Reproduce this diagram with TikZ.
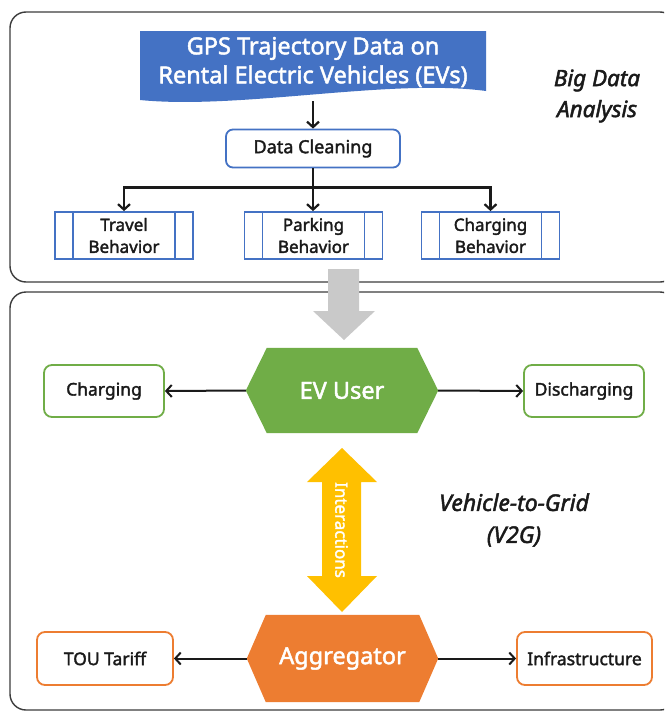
\documentclass[tikz,border=0pt]{standalone}
\usepackage{fontspec}
\setmainfont{Noto Sans}
\newfontfamily\medfont{Noto Sans}[FakeBold=2]
\newfontfamily\meditfont{Noto Sans Italic}[FakeBold=2]
\usetikzlibrary{arrows.meta}
\definecolor{cblue}{HTML}{4472C4}
\definecolor{cgreen}{HTML}{70AD47}
\definecolor{corange}{HTML}{ED7D31}
\definecolor{cyellow}{HTML}{FFC000}
\definecolor{cgrey}{HTML}{C9C9C9}
\definecolor{cpanel}{HTML}{3C3C3C}
\definecolor{ctext}{HTML}{1A1A1A}
\pgfdeclarelayer{bg}
\pgfsetlayers{bg,main}
\tikzset{
  panel/.style={draw=cpanel, line width=1.4pt, rounded corners=16pt},
  conn/.style={draw=ctext, line width=2.2pt, -{Straight Barb[length=5.5pt,width=12pt,line width=2.2pt]}},
  connb/.style={draw=ctext, line width=2pt, -{Straight Barb[length=5.5pt,width=12pt,line width=2pt]}},
  smallfont/.style={font=\medfont\fontsize{17.5}{21}\selectfont},
  cleanbox/.style={draw=cblue, line width=1.8pt, rounded corners=7pt, fill=white, text=ctext,
    minimum width=174pt, minimum height=38pt, inner sep=0pt, font=\medfont\fontsize{18}{22}\selectfont},
  behavbox/.style={draw=cblue, line width=1.8pt, fill=white, text=ctext, align=center,
    minimum width=138pt, minimum height=47pt, inner sep=0pt, font=\medfont\fontsize{17}{22}\selectfont,
    path picture={
      \draw[cblue, line width=1.8pt] ([xshift=18pt]path picture bounding box.north west) -- ([xshift=18pt]path picture bounding box.south west);
      \draw[cblue, line width=1.8pt] ([xshift=-18pt]path picture bounding box.north east) -- ([xshift=-18pt]path picture bounding box.south east);
    }},
  greenbox/.style={draw=cgreen, line width=1.8pt, rounded corners=8pt, fill=white, text=ctext,
    minimum width=120pt, minimum height=52pt, inner sep=0pt, smallfont},
  orangebox/.style={draw=corange, line width=1.8pt, rounded corners=8pt, fill=white, text=ctext,
    minimum width=136pt, minimum height=53pt, inner sep=0pt, smallfont},
  hexnode/.style={text=white, inner sep=0pt, font=\medfont\fontsize{23.5}{28}\selectfont},
  bigital/.style={text=ctext, align=center, font=\meditfont\fontsize{22.5}{31}\selectfont},
}
\begin{document}
\begin{tikzpicture}[x=1pt,y=-1pt]
\useasboundingbox (0,0) rectangle (664,712);
\begin{pgfonlayer}{bg}
  \fill[white] (0,0) rectangle (664,712);
\end{pgfonlayer}
\begin{scope}
  \clip (0,0) rectangle (664,712);
  \draw[panel] (10,12) rectangle (676,282);
  \draw[panel] (10,292) rectangle (676,710);
\end{scope}

% ---------- Big data analysis panel ----------
\node[minimum width=346pt, minimum height=70pt, inner sep=0pt] (gps) at (313,66) {};
\begin{pgfonlayer}{bg}
  \fill[cblue] (140,31) -- (486,31) -- (486,91) .. controls (390,78) and (240,110) .. (140,100) -- cycle;
\end{pgfonlayer}
\node[text=white, align=center, font=\medfont\fontsize{23.5}{29}\selectfont] (gpstext) at (313,62)
  {GPS Trajectory Data on\\Rental Electric Vehicles (EVs)};

\node[cleanbox] (clean) at (313,148.5) {Data Cleaning};

\node[behavbox] (travel) at (124,235.5) {Travel\\Behavior};
\node[behavbox] (parking) at (313.5,235.5) {Parking\\Behavior};
\node[behavbox] (charge) at (490.5,235.5) {Charging\\Behavior};

\node[bigital] (bda) at (597,96) {Big Data\\Analysis};

\draw[conn] (gps.south) -- (clean.north);
\draw[line width=2.2pt, draw=ctext] (clean.south) -- ++(0,19) coordinate (br);
\draw[conn] (br) -| (travel.north);
\draw[conn] (br) -| (charge.north);
\draw[conn] (br) -- (br |- parking.north);

% grey transfer arrow
\fill[cgrey] (328,269) -- (359,269) -- (359,311) -- (375,311) -- (344,340) -- (313,311) -- (328,311) -- cycle;

% ---------- V2G panel ----------
\node[hexnode, minimum width=192pt, minimum height=85pt] (ev) at (342,390.5) {EV User};
\begin{pgfonlayer}{bg}
  \fill[cgreen] (ev.west) -- ([xshift=21pt]ev.north west) -- ([xshift=-21pt]ev.north east) -- (ev.east)
     -- ([xshift=-21pt]ev.south east) -- ([xshift=21pt]ev.south west) -- cycle;
\end{pgfonlayer}

\node[hexnode, minimum width=191pt, minimum height=87pt] (agg) at (342.5,658.5) {Aggregator};
\begin{pgfonlayer}{bg}
  \fill[corange] (agg.west) -- ([xshift=19pt]agg.north west) -- ([xshift=-19pt]agg.north east) -- (agg.east)
     -- ([xshift=-19pt]agg.south east) -- ([xshift=19pt]agg.south west) -- cycle;
\end{pgfonlayer}

\node[greenbox] (charging) at (104,391) {Charging};
\node[greenbox] (discharging) at (584,391) {Discharging};
\node[orangebox] (tou) at (105,658.5) {TOU Tariff};
\node[orangebox, minimum width=135pt] (infra) at (584.5,658.5) {Infrastructure};

\draw[connb] (ev.west) -- (charging.east);
\draw[connb] (ev.east) -- (discharging.west);
\draw[connb] (agg.west) -- (tou.east);
\draw[connb] (agg.east) -- (infra.west);

% yellow interaction arrow
\fill[cyellow] (342,448) -- (377,482) -- (361,482) -- (361,576) -- (377,576) -- (342,612)
   -- (307,576) -- (322,576) -- (322,482) -- (307,482) -- cycle;
\node[text=white, rotate=-90, font=\medfont\fontsize{17}{20}\selectfont] (inter) at (341.5,530) {Interactions};

\node[bigital, font=\meditfont\fontsize{23}{32}\selectfont] (v2g) at (514,520) {Vehicle-to-Grid\\(V2G)};
\end{tikzpicture}
\end{document}
